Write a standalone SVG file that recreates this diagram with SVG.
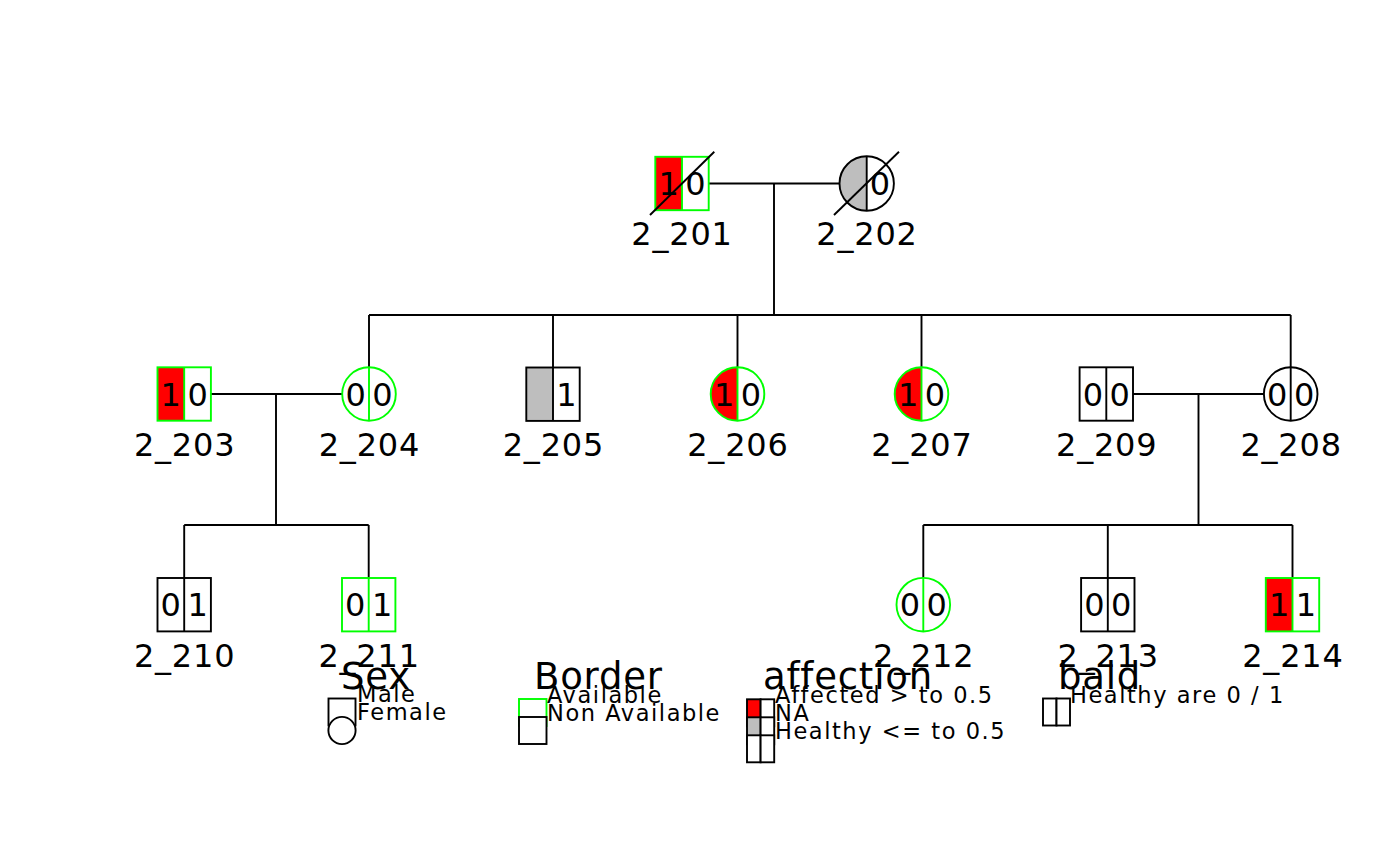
<svg xmlns="http://www.w3.org/2000/svg" width="1400" height="865" viewBox="0 0 1400 865">
<style>
text{font-family:"DejaVu Sans","Liberation Sans",sans-serif;fill:#000}
.lbl{font-size:32px;text-anchor:middle;letter-spacing:0.8px}
.num{font-size:32px;text-anchor:middle}
.ttl{font-size:37px;letter-spacing:0.8px}
.leg{font-size:22.5px;letter-spacing:1.55px}
.ln{stroke:#000;stroke-width:1.9;fill:none}
.bk{stroke:#000;stroke-width:1.9}
.gr{stroke:#00FF00;stroke-width:1.9}
.red{fill:#FF0000}
.gry{fill:#BEBEBE}
.wht{fill:#FFFFFF}
.nof{fill:none}
</style>
<rect width="1400" height="865" fill="#FFFFFF"/>
<g id="connectors" class="ln">
<path d="M709,183.5H839.5M774,183.5V315M369,315H1290.7M369,315V367M553,315V367.5M737.5,315V367M921.5,315V367M1290.7,315V367"/>
<path d="M211,394H342M276,394V525M184.2,525H368.7M184.2,525V578.3M368.7,525V578.3"/>
<path d="M1133,394H1264M1198.5,394V525M923.3,525H1292.5M923.3,525V577.7M1107.8,525V578.3M1292.5,525V578.3"/>
</g>
<g id="n2_201">
<rect x="655.3" y="156.8" width="26.7" height="53.4" class="red"/>
<rect x="655.3" y="156.8" width="53.4" height="53.4" class="gr nof"/>
<line x1="682" y1="156.8" x2="682" y2="210.2" class="gr"/>
<text x="668.6" y="195.2" class="num">1</text><text x="695.4" y="195.2" class="num">0</text>
<line x1="650" y1="215" x2="714.3" y2="151.7" class="bk"/>
<text x="682" y="245" class="lbl">2_201</text>
</g>
<g id="n2_202">
<path d="M866.7,156.3A27.2,27.2 0 0 0 866.7,210.7Z" class="gry"/>
<circle cx="866.7" cy="183.5" r="27.2" class="bk nof"/>
<line x1="866.7" y1="156.3" x2="866.7" y2="210.7" class="bk"/>
<text x="880" y="195.2" class="num">0</text>
<line x1="834" y1="215" x2="899" y2="151.7" class="bk"/>
<text x="867" y="245" class="lbl">2_202</text>
</g>
<g id="n2_203">
<rect x="157.5" y="367.3" width="26.7" height="53.4" class="red"/>
<rect x="157.5" y="367.3" width="53.4" height="53.4" class="gr nof"/>
<line x1="184.2" y1="367.3" x2="184.2" y2="420.7" class="gr"/>
<text x="170.8" y="405.7" class="num">1</text><text x="197.6" y="405.7" class="num">0</text>
<text x="184.6" y="456" class="lbl">2_203</text>
</g>
<g id="n2_204">
<circle cx="369" cy="394" r="26.8" class="gr nof"/>
<line x1="369" y1="367.2" x2="369" y2="420.8" class="gr"/>
<text x="355.6" y="405.7" class="num">0</text><text x="382.4" y="405.7" class="num">0</text>
<text x="369.4" y="456" class="lbl">2_204</text>
</g>
<g id="n2_205">
<rect x="526.3" y="367.5" width="26.7" height="53.4" class="gry"/>
<rect x="526.3" y="367.5" width="53.4" height="53.4" class="bk nof"/>
<line x1="553" y1="367.5" x2="553" y2="420.9" class="bk"/>
<text x="566.4" y="405.7" class="num">1</text>
<text x="553.4" y="456" class="lbl">2_205</text>
</g>
<g id="n2_206">
<path d="M737.5,367.2A26.8,26.8 0 0 0 737.5,420.8Z" class="red"/>
<circle cx="737.5" cy="394" r="26.8" class="gr nof"/>
<line x1="737.5" y1="367.2" x2="737.5" y2="420.8" class="gr"/>
<text x="724.1" y="405.7" class="num">1</text><text x="750.9" y="405.7" class="num">0</text>
<text x="737.9" y="456" class="lbl">2_206</text>
</g>
<g id="n2_207">
<path d="M921.5,367.2A26.8,26.8 0 0 0 921.5,420.8Z" class="red"/>
<circle cx="921.5" cy="394" r="26.8" class="gr nof"/>
<line x1="921.5" y1="367.2" x2="921.5" y2="420.8" class="gr"/>
<text x="908.1" y="405.7" class="num">1</text><text x="934.9" y="405.7" class="num">0</text>
<text x="921.9" y="456" class="lbl">2_207</text>
</g>
<g id="n2_209">
<rect x="1079.6" y="367.3" width="53.4" height="53.4" class="bk nof"/>
<line x1="1106.3" y1="367.3" x2="1106.3" y2="420.7" class="bk"/>
<text x="1092.9" y="405.7" class="num">0</text><text x="1119.7" y="405.7" class="num">0</text>
<text x="1106.7" y="456" class="lbl">2_209</text>
</g>
<g id="n2_208">
<circle cx="1290.7" cy="394" r="26.8" class="bk nof"/>
<line x1="1290.7" y1="367.2" x2="1290.7" y2="420.8" class="bk"/>
<text x="1277.3" y="405.7" class="num">0</text><text x="1304.1" y="405.7" class="num">0</text>
<text x="1291.1" y="456" class="lbl">2_208</text>
</g>
<g id="n2_210">
<rect x="157.5" y="578" width="53.4" height="53.4" class="bk nof"/>
<line x1="184.2" y1="578" x2="184.2" y2="631.4" class="bk"/>
<text x="170.8" y="616.4" class="num">0</text><text x="197.6" y="616.4" class="num">1</text>
<text x="184.6" y="667" class="lbl">2_210</text>
</g>
<g id="n2_211">
<rect x="342" y="578" width="53.4" height="53.4" class="gr nof"/>
<line x1="368.7" y1="578" x2="368.7" y2="631.4" class="gr"/>
<text x="355.3" y="616.4" class="num">0</text><text x="382.1" y="616.4" class="num">1</text>
<text x="369.1" y="667" class="lbl">2_211</text>
</g>
<g id="n2_212">
<circle cx="923.3" cy="604.7" r="26.8" class="gr nof"/>
<line x1="923.3" y1="577.9" x2="923.3" y2="631.5" class="gr"/>
<text x="909.9" y="616.4" class="num">0</text><text x="936.7" y="616.4" class="num">0</text>
<text x="923.7" y="667" class="lbl">2_212</text>
</g>
<g id="n2_213">
<rect x="1081.1" y="578" width="53.4" height="53.4" class="bk nof"/>
<line x1="1107.8" y1="578" x2="1107.8" y2="631.4" class="bk"/>
<text x="1094.4" y="616.4" class="num">0</text><text x="1121.2" y="616.4" class="num">0</text>
<text x="1108.2" y="667" class="lbl">2_213</text>
</g>
<g id="n2_214">
<rect x="1265.8" y="578" width="26.7" height="53.4" class="red"/>
<rect x="1265.8" y="578" width="53.4" height="53.4" class="gr nof"/>
<line x1="1292.5" y1="578" x2="1292.5" y2="631.4" class="gr"/>
<text x="1279.1" y="616.4" class="num">1</text><text x="1305.9" y="616.4" class="num">1</text>
<text x="1292.9" y="667" class="lbl">2_214</text>
</g>
<g id="legend">
<text x="341" y="689" class="ttl">Sex</text>
<rect x="328.5" y="698.5" width="27" height="27" class="bk wht"/>
<circle cx="342" cy="730.5" r="13.6" class="bk wht"/>
<text x="357" y="702" class="leg">Male</text>
<text x="357" y="720" class="leg">Female</text>
<text x="534" y="689" class="ttl">Border</text>
<rect x="519" y="699" width="27.5" height="27" class="gr wht"/>
<rect x="519" y="717" width="27.5" height="27" class="bk wht"/>
<text x="547" y="702.5" class="leg">Available</text>
<text x="547" y="720.5" class="leg">Non Available</text>
<text x="763" y="689" class="ttl">affection</text>
<rect x="747" y="699.3" width="13.6" height="27" class="bk red"/>
<rect x="760.6" y="699.3" width="13.6" height="27" class="bk wht"/>
<rect x="747" y="717.3" width="13.6" height="27" class="bk gry"/>
<rect x="760.6" y="717.3" width="13.6" height="27" class="bk wht"/>
<rect x="747" y="735.3" width="13.6" height="27" class="bk wht"/>
<rect x="760.6" y="735.3" width="13.6" height="27" class="bk wht"/>
<text x="775" y="703.3" class="leg">Affected &gt; to 0.5</text>
<text x="775" y="721" class="leg">NA</text>
<text x="775" y="738.5" class="leg">Healthy &lt;= to 0.5</text>
<text x="1058" y="689" class="ttl">bald</text>
<rect x="1043" y="698.5" width="13.5" height="27" class="bk wht"/>
<rect x="1056.5" y="698.5" width="13.5" height="27" class="bk wht"/>
<text x="1070" y="703.3" class="leg">Healthy are 0 / 1</text>
</g>
</svg>
